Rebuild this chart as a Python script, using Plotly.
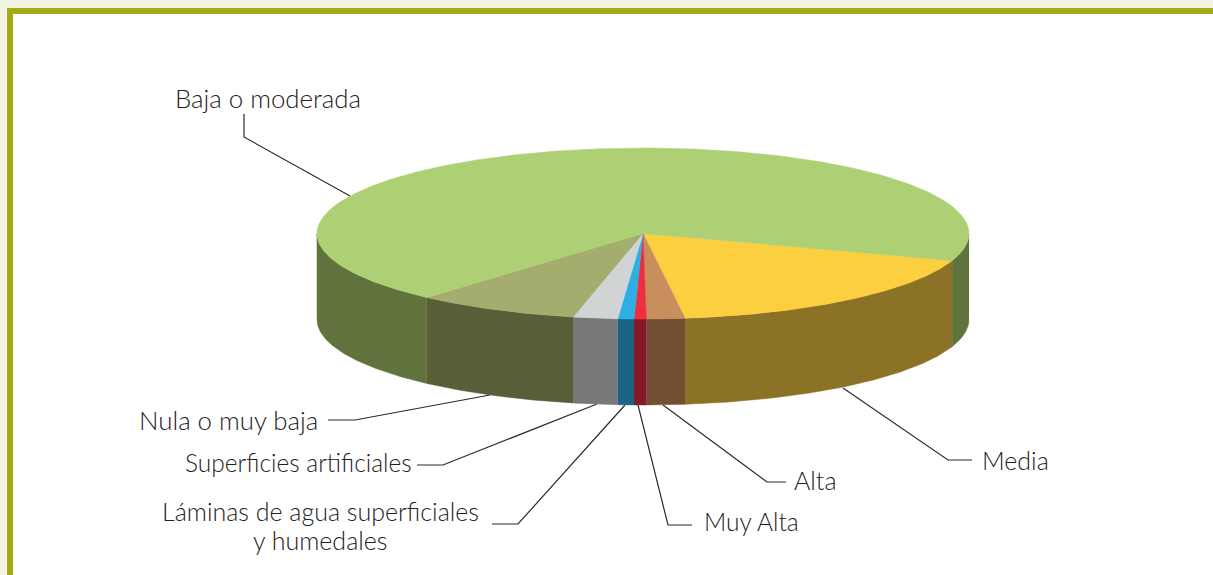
import numpy as np
import plotly.graph_objects as go

# Data (share of area, %), in pie order starting from the right-hand edge of "Media"
categories = ["Media", "Alta", "Muy Alta", "Láminas de agua superficiales<br>y humedales",
              "Superficies artificiales", "Nula o muy baja", "Baja o moderada"]
values = [17.8, 1.9, 0.6, 0.8, 2.2, 8.1, 68.6]
top_colors = ["#fccf40", "#c88e5e", "#ed2e3e", "#2eaee4", "#d0d4d4", "#a5ad6e", "#aed074"]
side_colors = ["#8c7226", "#744e33", "#84192a", "#1a6586", "#787878", "#5a5e38", "#60733c"]

# Layout
W, H = 1213, 575
CX, CY, RX, RY, DEPTH = 643, 233.5, 326, 85.5, 86
START_DEG = 18.5
FONT = "Lato"
label_pos = [(1015.5, 460), (815.5, 480), (751.5, 521), (320, 511), (298.5, 462), (228, 419.5), (267.5, 98)]
label_size = [25, 25, 24.5, 25, 24.5, 25.8, 25.8]
LINE_STEP = 29
leaders = [
    [(972, 460), (948, 460), (843, 388)],
    [(786, 482), (767, 482), (663, 405)],
    [(692, 525), (668, 525), (638, 405)],
    [(492, 524), (518, 524), (625, 405)],
    [(417, 465), (443, 465), (597, 404)],
    [(328, 420), (355, 420), (490, 395)],
    [(244, 114), (244, 137), (350, 196)],
]


def arc(a0, a1, dy=0.0):
    n = max(2, int(abs(a1 - a0) * 2) + 2)
    t = np.radians(np.linspace(a0, a1, n))
    return CX + RX * np.cos(t), CY + RY * np.sin(t) + dy


fig = go.Figure()

# Leader lines, beneath the pie
for pts in leaders:
    fig.add_trace(go.Scatter(x=[p[0] for p in pts], y=[p[1] for p in pts], mode="lines",
                             line=dict(color="#2b2b2b", width=1.2), hoverinfo="skip", showlegend=False))

bounds = START_DEG + np.concatenate([[0], np.cumsum(values)]) * 3.6

# Side walls: only the front half of the rim (0..180 degrees, modulo 360) is visible
for i in range(len(values)):
    a0, a1 = bounds[i], bounds[i + 1]
    for shift in (0, 360):
        lo, hi = max(a0 - shift, 0), min(a1 - shift, 180)
        if hi <= lo:
            continue
        xt, yt = arc(lo, hi)
        xb, yb = arc(hi, lo, DEPTH)
        fig.add_trace(go.Scatter(x=np.r_[xt, xb], y=np.r_[yt, yb], mode="lines", fill="toself",
                                 fillcolor=side_colors[i], line=dict(color=side_colors[i], width=0.5),
                                 hoverinfo="skip", showlegend=False))

# Top faces
for i in range(len(values)):
    x, y = arc(bounds[i], bounds[i + 1])
    fig.add_trace(go.Scatter(x=np.r_[CX, x, CX], y=np.r_[CY, y, CY], mode="lines", fill="toself",
                             fillcolor=top_colors[i], line=dict(color=top_colors[i], width=0.5),
                             name=categories[i].replace("<br>", " "), showlegend=False,
                             hovertemplate="%{fullData.name}<extra></extra>"))

annotations = []
for name, (px, py), size in zip(categories, label_pos, label_size):
    for k, line in enumerate(name.split("<br>")):
        annotations.append(dict(x=px, y=py + k * LINE_STEP, text=line, showarrow=False,
                                xanchor="center", yanchor="middle",
                                font=dict(family=FONT, size=size, color="#222222", weight=300)))

frame = [
    dict(type="rect", layer="below", x0=7, x1=W + 5, y0=8, y1=H + 5, fillcolor="#a3ac12", line_width=0),
    dict(type="rect", layer="below", x0=13, x1=W + 5, y0=14, y1=H + 5, fillcolor="white", line_width=0),
]

fig.update_layout(
    width=W, height=H, autosize=False, margin=dict(l=0, r=0, t=0, b=0),
    paper_bgcolor="#f2f2e2", plot_bgcolor="rgba(0,0,0,0)",
    xaxis=dict(range=[0, W], visible=False, fixedrange=True),
    yaxis=dict(range=[H, 0], visible=False, fixedrange=True),
    annotations=annotations, shapes=frame, showlegend=False,
)
fig.write_html("out.html", config=dict(displayModeBar=False),
               post_script="document.body.style.margin='0';document.body.style.overflow='hidden';")
